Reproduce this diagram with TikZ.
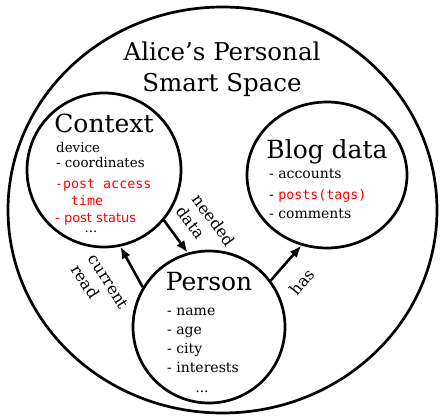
\documentclass[tikz,border=0pt]{standalone}
\usepackage{fontspec}
\setmainfont{DejaVu Serif}
\newfontfamily\redmono{DejaVu Sans Mono}
\newfontfamily\redsans{DejaVu Sans}
\usetikzlibrary{arrows.meta,shapes.geometric}

\begin{document}
\begin{tikzpicture}[x=1pt,y=-1pt,
	blob/.style={draw,line width=2.7pt,inner sep=0pt},
	head/.style={font=\fontsize{25}{30}\selectfont,anchor=base,inner sep=0pt},
	item/.style={font=\fontsize{14}{17}\selectfont,anchor=base west,inner sep=0pt},
	reditem/.style={item,text=red,font=\fontsize{13.3}{16}\redmono},
	lbl/.style={font=\fontsize{16}{20}\selectfont,align=left,inner sep=0pt},
	arr/.style={-{Latex[length=12pt,width=9.5pt]},line width=2.6pt}]
		\useasboundingbox (0,0) rectangle (440,418);
		\node[blob,ellipse,minimum width=429pt,minimum height=406pt] (space) at (222.5,210) {};
		\node[blob,circle,minimum size=154pt] (context) at (104,170) {};
		\node[blob,ellipse,minimum width=160pt,minimum height=146pt] (blog) at (327,175) {};
		\node[blob,circle,minimum size=152pt] (person) at (209,327) {};
		% title
		\node[head,font=\fontsize{24.5}{31}\selectfont] (titlea) at (222,60) {Alice's Personal};
		\node[head,font=\fontsize{24.5}{31}\selectfont] (titleb) at (222,91) {Smart Space};
		% context
		\node[head] (ctxhead) at (104,132) {Context};
		\node[item,font=\fontsize{13.4}{15}\selectfont] (ctxdev) at (56,152) {device};
		\node[item,font=\fontsize{13.4}{15}\selectfont] (ctxcoord) at (56,167) {- coordinates};
		\node[reditem] (ctxpost) at (55,188) {-post access};
		\node[reditem] (ctxtime) at (71,205) {time};
		\node[reditem,font=\fontsize{13}{16}\redsans] (ctxstatus) at (55,222) {- post status};
		\node[item,anchor=base,font=\fontsize{13.4}{15}\selectfont] (ctxdots) at (91,232) {...};
		% blog data
		\node[head] (bloghead) at (327,158) {Blog data};
		\node[item] (blogacc) at (269,178) {- accounts};
		\node[item] (blogpost) at (269,199) {- {\redmono\fontsize{13.3}{16}\selectfont\color{red}posts(tags)}};
		\node[item] (blogcom) at (269,218) {- comments};
		% person
		\node[head] (perhead) at (209,290) {Person};
		\node[item] (pername) at (167,315) {- name};
		\node[item] (perage) at (167,334) {- age};
		\node[item] (percity) at (167,353) {- city};
		\node[item] (perint) at (167,372) {- interests};
		\node[item,anchor=base] (perdots) at (202,392) {...};
		% connectors
		\draw[arr] (context.-40) -- (person.106);
		\draw[arr] (person.149) -- (context.-78);
		\draw[arr] (person.37) -- (blog.-110);
		\node[lbl,rotate=-54] (needlbl) at (206,226) {needed\\data};
		\node[lbl,rotate=-58] (curlbl) at (100,287) {current\\read};
		\node[lbl,rotate=51] (haslbl) at (302,282) {has};
	\end{tikzpicture}
\end{document}
